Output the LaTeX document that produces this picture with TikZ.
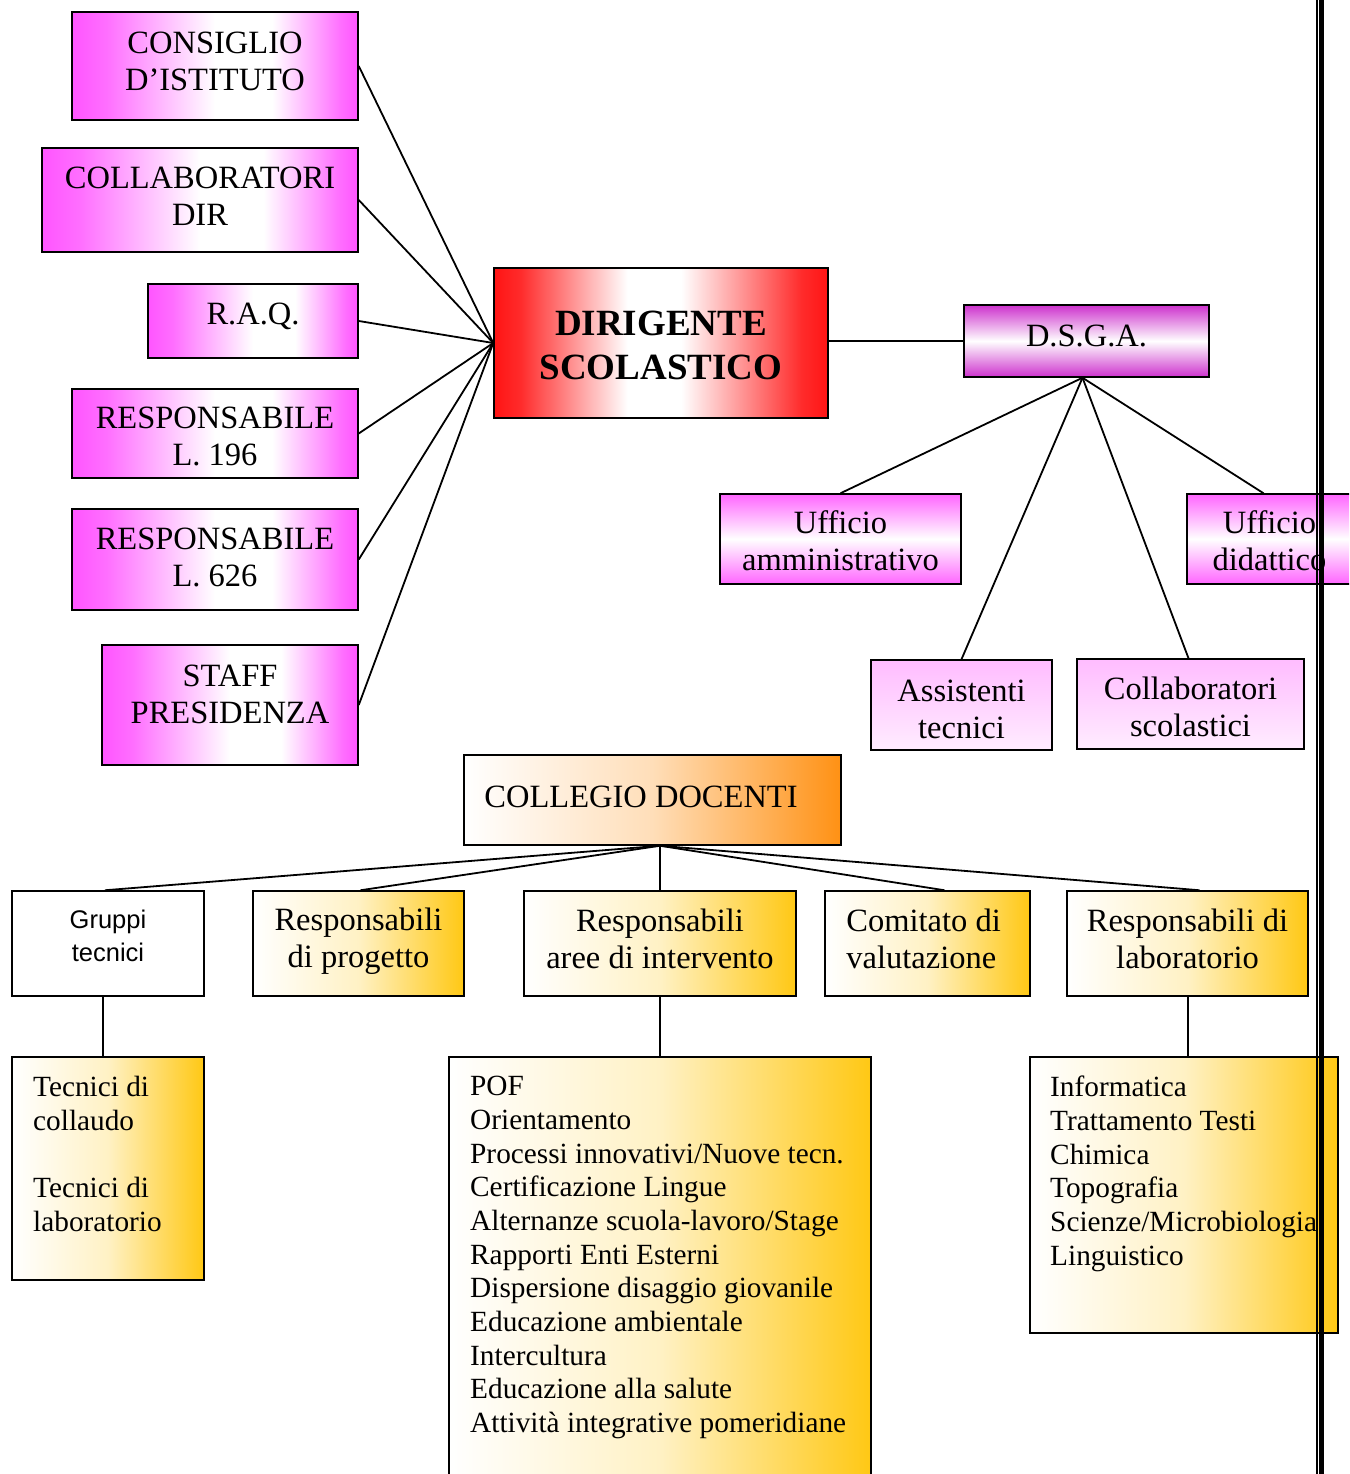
\documentclass[tikz,border=0pt]{standalone}
\usepackage{fontspec}
\setmainfont{Liberation Serif}
\newfontfamily\arialfont{Liberation Sans}
\usetikzlibrary{calc}

\definecolor{magbox}{RGB}{255,85,255}
\definecolor{magsoft}{RGB}{255,102,255}
\definecolor{magdark}{RGB}{205,50,205}
\definecolor{pinktop}{RGB}{255,188,255}
\definecolor{pinkbot}{RGB}{255,236,255}
\definecolor{redbox}{RGB}{255,20,20}
\definecolor{orangebox}{RGB}{255,145,20}
\definecolor{goldbox}{RGB}{255,200,20}

% side-to-side fades (the path spans 25bp..75bp of the shading)
\pgfdeclarehorizontalshading{magfade}{100bp}{color(0bp)=(magbox); color(25bp)=(magbox);
  color(31bp)=(magbox!85); color(50bp)=(white); color(60bp)=(white);
  color(72bp)=(magbox!85); color(75bp)=(magbox); color(100bp)=(magbox)}
\pgfdeclarehorizontalshading{redfade}{100bp}{color(0bp)=(redbox); color(25bp)=(redbox);
  color(29bp)=(redbox!90); color(45bp)=(white); color(53bp)=(white);
  color(71bp)=(redbox!90); color(75bp)=(redbox); color(100bp)=(redbox)}

\begin{document}
\begin{tikzpicture}[x=1pt,y=-1pt,
  box/.style={draw=black, line width=1.5pt, rectangle, inner sep=0pt},
  magh/.style={box, shading=magfade},
  magv/.style={box, top color=magsoft, bottom color=magsoft, middle color=white},
  magdv/.style={box, top color=magdark, bottom color=magdark, middle color=white},
  pinkv/.style={box, top color=pinktop, bottom color=pinkbot},
  redh/.style={box, shading=redfade},
  orangeh/.style={box, left color=white, right color=orangebox, middle color=orangebox!30},
  goldh/.style={box, left color=white, right color=goldbox, middle color=goldbox!25},
  plainbox/.style={box, fill=white},
  txt/.style={inner sep=0pt, align=center, font=\fontsize{32.5}{37}\selectfont},
  txtl/.style={txt, align=left},
  boldtxt/.style={txt, font=\fontsize{37}{44}\selectfont\bfseries},
  sanstxt/.style={txt, font=\arialfont\fontsize{25.5}{33}\selectfont},
  listtext/.style={inner sep=0pt, align=left, anchor=north west,
    font=\fontsize{29.3}{33.7}\selectfont},
  link/.style={draw=black, line width=1.8pt}
]
\useasboundingbox (0,0) rectangle (1349,1474);
\clip (0,0) rectangle (1349,1474);

% --- head of the school and its staff
\node[redh, minimum width=334, minimum height=150] (dir) at (661,343) {};
\node[boldtxt] (dirt) at ($(dir)+(0,2)$) {DIRIGENTE\\SCOLASTICO};

\node[magh, minimum width=286, minimum height=108] (consiglio) at (215,66) {};
\node[txt] (consigliot) at ($(consiglio)+(0,-5)$) {CONSIGLIO\\D'ISTITUTO};
\node[magh, minimum width=316, minimum height=104] (collab) at (200,200) {};
\node[txt] (collabt) at ($(collab)+(0,-4)$) {COLLABORATORI\\DIR};
\node[magh, minimum width=210, minimum height=74] (raq) at (253,321) {};
\node[txt] (raqt) at ($(raq)+(0,-5)$) {R.A.Q.};
\node[magh, minimum width=286, minimum height=89] (lcen) at (215,433.5) {};
\node[txt] (lcent) at ($(lcen)+(0,3)$) {RESPONSABILE\\L. 196};
\node[magh, minimum width=286, minimum height=101] (lsei) at (215,559.5) {};
\node[txt] (lseit) at ($(lsei)+(0,-2)$) {RESPONSABILE\\L. 626};
\node[magh, minimum width=256, minimum height=120] (staff) at (230,705) {};
\node[txt] (stafft) at ($(staff)+(0,-11)$) {STAFF\\PRESIDENZA};

\foreach \n in {consiglio,collab,raq,lcen,lsei,staff}
  \draw[link] (\n.east) -- (dir.west);

% --- administrative branch
\node[magdv, minimum width=245, minimum height=72] (dsga) at (1086.5,341) {};
\node[txt] (dsgat) at ($(dsga)+(0,-5)$) {D.S.G.A.};
\draw[link] (dsga.west -| dir.east) -- (dsga.west);
\coordinate (dsgahub) at ($(dsga.south)+(-4,0)$);

\node[magv, minimum width=241, minimum height=90] (uffamm) at (840.5,539) {};
\node[txt] (uffammt) at ($(uffamm)+(0,2)$) {Ufficio\\amministrativo};
\node[magv, minimum width=165, minimum height=90] (uffdid) at (1269.5,539) {};
\node[txt] (uffdidt) at ($(uffdid)+(0,2)$) {Ufficio\\didattico};
\node[pinkv, minimum width=181, minimum height=90] (assist) at (961.5,705) {};
\node[txt] (assistt) at ($(assist)+(0,4)$) {Assistenti\\tecnici};
\node[pinkv, minimum width=227, minimum height=90] (collscol) at (1190.5,704) {};
\node[txt] (collscolt) at ($(collscol)+(0,3)$) {Collaboratori\\scolastici};

\draw[link] (dsgahub) -- (uffamm.north);
\draw[link] (dsgahub) -- ($(uffdid.north)+(-6,0)$);
\draw[link] (dsgahub) -- (assist.north);
\draw[link] (dsgahub) -- ($(collscol.north)+(-2,0)$);

% --- teaching branch
\node[orangeh, minimum width=377, minimum height=90] (collegio) at (652.5,800) {};
\node[txtl, anchor=west] (collegiot) at ($(collegio.west)+(21,-3)$) {COLLEGIO DOCENTI};
\coordinate (chub) at ($(collegio.south)+(7.5,0)$);

\node[plainbox, minimum width=192, minimum height=105] (gruppi) at (108,943.5) {};
\node[sanstxt] (gruppit) at ($(gruppi)+(0,-8)$) {Gruppi\\tecnici};
\node[goldh, minimum width=211, minimum height=105] (resprog) at (358.5,943.5) {};
\node[txt] (resprogt) at ($(resprog)+(0,-2)$) {Responsabili\\di progetto};
\node[goldh, minimum width=272, minimum height=105] (aree) at (660,943.5) {};
\node[txt] (areet) at ($(aree)+(0,-5)$) {Responsabili\\aree di intervento};
\node[goldh, minimum width=205, minimum height=105] (comitato) at (927.5,943.5) {};
\node[txtl, anchor=west] (comitatot) at ($(comitato.west)+(22,-5)$) {Comitato di\\valutazione};
\node[goldh, minimum width=241, minimum height=105] (reslab) at (1187.5,943.5) {};
\node[txt] (reslabt) at ($(reslab)+(0,-5)$) {Responsabili di\\laboratorio};

\draw[link] (chub) -- ($(gruppi.north)+(-3,0)$);
\draw[link] (chub) -- ($(resprog.north)+(2,0)$);
\draw[link] (chub) -- (aree.north);
\draw[link] (chub) -- ($(comitato.north)+(17,0)$);
\draw[link] (chub) -- ($(reslab.north)+(12,0)$);

% --- detail boxes
\node[goldh, minimum width=192, minimum height=223] (tecnici) at (108,1168.5) {};
\node[goldh, minimum width=422, minimum height=443] (pof) at (660,1278.5) {};
\node[goldh, minimum width=308, minimum height=276] (info) at (1184,1195) {};

\node[listtext] (tecnicilist) at (33,1076) {Tecnici di\\collaudo\\[33.7pt]Tecnici di\\laboratorio};
\node[listtext] (poflist) at (470,1076) {POF\\Orientamento\\Processi innovativi/Nuove tecn.\\Certificazione Lingue\\Alternanze scuola-lavoro/Stage\\Rapporti Enti Esterni\\Dispersione disaggio giovanile\\Educazione ambientale\\Intercultura\\Educazione alla salute\\Attività integrative pomeridiane};
\node[listtext] (infolist) at (1050,1076) {Informatica\\Trattamento Testi\\Chimica\\Topografia\\Scienze/Microbiologia\\Linguistico};

\draw[link] ($(gruppi.south)+(-5,0)$) -- ($(tecnici.north)+(-5,0)$);
\draw[link] (aree.south) -- (pof.north);
\draw[link] ($(reslab.south)+(0.5,0)$) -- ($(reslab.south |- info.north)+(0.5,0)$);

% --- double rule along the right side
\draw[line width=2pt] (1317,-5) -- (1317,1480);
\draw[line width=5pt] (1321.5,-5) -- (1321.5,1480);
\end{tikzpicture}
\end{document}
